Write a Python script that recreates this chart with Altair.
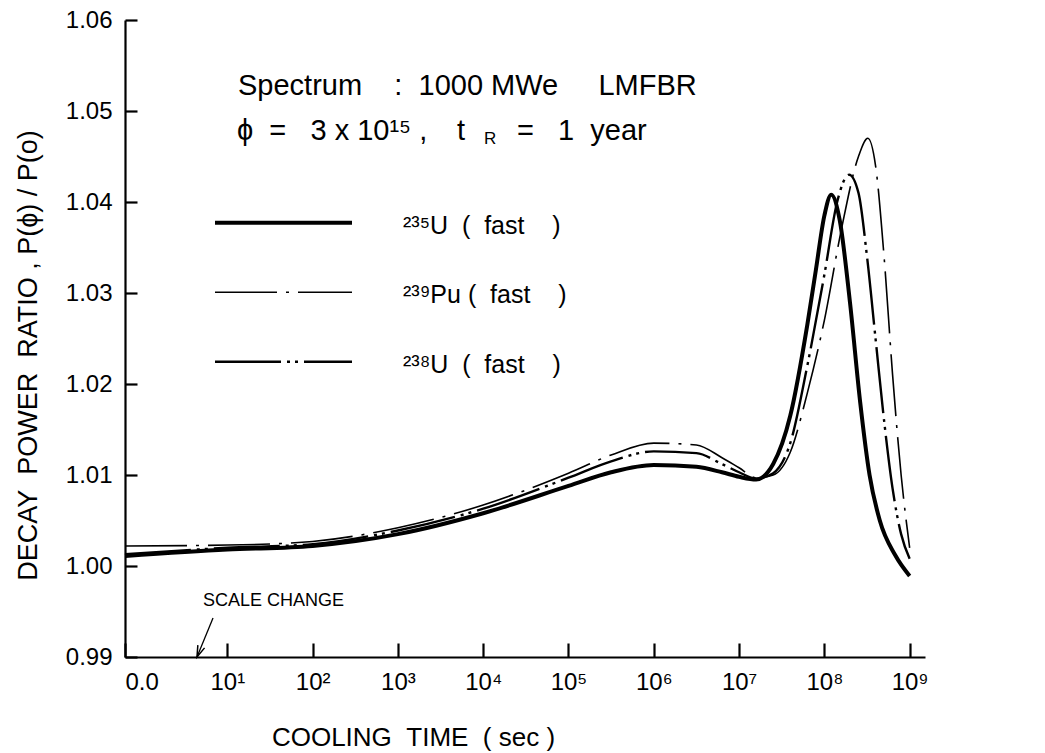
import json
import altair as alt
import pandas as pd

# Cooling-time positions are in decades (log10 of seconds). t = 0 has no
# logarithm, so it sits at -0.2, left of the scale change on the axis.
U235_POS = [-0.2, 1, 2, 3, 4, 5, 5.5, 6, 6.5, 6.8, 7.0, 7.2, 7.4, 7.6, 7.8, 7.9,
            8.0, 8.08, 8.18, 8.3, 8.42, 8.53, 8.65, 8.83, 9.0]
U235_RATIO = [1.0011, 1.0018, 1.0022, 1.0035, 1.0058, 1.0088, 1.0103, 1.0111, 1.0109,
              1.0103, 1.0098, 1.0095, 1.0112, 1.0165, 1.0265, 1.0325, 1.0385, 1.0408,
              1.0380, 1.0290, 1.0180, 1.0100, 1.0050, 1.0012, 0.9989]

PU239_POS = [-0.2, 1, 2, 3, 4, 5, 5.5, 6, 6.5, 6.8, 7.0, 7.2, 7.4, 7.6, 7.8, 8.0,
             8.2, 8.4, 8.51, 8.6, 8.7, 8.8, 8.9, 9.0]
PU239_RATIO = [1.0022, 1.0023, 1.0027, 1.0042, 1.0067, 1.0102, 1.0122, 1.0135, 1.0133,
               1.0119, 1.0108, 1.0097, 1.0100, 1.0125, 1.0190, 1.0270, 1.0370, 1.0450,
               1.0470, 1.0440, 1.0340, 1.0210, 1.0100, 1.0020]

U238_POS = [-0.2, 1, 2, 3, 4, 5, 5.5, 6, 6.5, 6.8, 7.0, 7.2, 7.4, 7.6, 7.8, 8.0,
            8.15, 8.29, 8.4, 8.5, 8.6, 8.7, 8.8, 8.9, 9.0]
U238_RATIO = [1.0013, 1.0020, 1.0024, 1.0039, 1.0063, 1.0097, 1.0115, 1.0126, 1.0124,
              1.0112, 1.0103, 1.0096, 1.0102, 1.0135, 1.0220, 1.0320, 1.0400, 1.0430,
              1.0410, 1.0340, 1.0250, 1.0160, 1.0085, 1.0035, 1.0008]

SERIES = ["235U", "239Pu", "238U"]
LEGEND_TEXT = [
    "²³⁵U\u00a0\u00a0(\u00a0\u00a0fast\u00a0\u00a0\u00a0\u00a0)",
    "²³⁹Pu\u00a0(\u00a0\u00a0fast\u00a0\u00a0\u00a0\u00a0)",
    "²³⁸U\u00a0\u00a0(\u00a0\u00a0fast\u00a0\u00a0\u00a0\u00a0)",
]
STROKE_WIDTH = [4.0, 1.6, 2.4]
STROKE_DASH = [None, [62, 9, 3, 9], [66, 6, 3, 5, 3, 6]]

X_TICK_POS = [-0.2, 1, 2, 3, 4, 5, 6, 7, 8, 9]
X_TICK_TEXT = ["0.0", "10¹", "10²", "10³", "10⁴", "10⁵", "10⁶", "10⁷", "10⁸", "10⁹"]
Y_TICKS = [0.99, 1.00, 1.01, 1.02, 1.03, 1.04, 1.05, 1.06]

FONT = "Liberation Sans"
W, H = 800, 637
LEFT, TOP = 125, 20
X_DOMAIN = [-0.2, 9.18]
Y_DOMAIN = [0.99, 1.06]

curves = pd.DataFrame({
    "pos": U235_POS + PU239_POS + U238_POS,
    "ratio": U235_RATIO + PU239_RATIO + U238_RATIO,
    "series": [SERIES[0]] * len(U235_POS) + [SERIES[1]] * len(PU239_POS)
              + [SERIES[2]] * len(U238_POS),
})

label_expr = (f"{json.dumps(X_TICK_TEXT, ensure_ascii=False)}"
              f"[indexof({json.dumps(X_TICK_POS)}, datum.value)]")

xscale = alt.Scale(domain=X_DOMAIN, nice=False, zero=False)
yscale = alt.Scale(domain=Y_DOMAIN, nice=False, zero=False)

# negative tick sizes (given as expressions) turn the ticks into the plot
xaxis = alt.Axis(
    values=X_TICK_POS, labelExpr=label_expr, grid=False,
    ticks=True, tickSize={"expr": "-14"}, tickColor="black", tickWidth=2.2,
    domainColor="black", domainWidth=2.2, labelFont=FONT, labelFontSize=24,
    labelColor="black", labelPadding=27, labelFlush=True,
    title="COOLING\u00a0\u00a0TIME\u00a0\u00a0(\u00a0sec\u00a0)",
    titleFont=FONT, titleFontSize=26, titleFontWeight="normal", titleColor="black",
    titleX=288, titleY=80, titleAlign="center", titleBaseline="middle",
)
yaxis = alt.Axis(
    values=Y_TICKS, format=".2f", grid=False,
    ticks=True, tickSize={"expr": "-12"}, tickColor="black", tickWidth=2.2,
    domainColor="black", domainWidth=2.2, labelFont=FONT, labelFontSize=24,
    labelColor="black", labelPadding=25,
    title="DECAY\u00a0\u00a0POWER\u00a0\u00a0RATIO\u00a0,\u00a0P(ϕ)\u00a0/\u00a0P(o)",
    titleFont=FONT, titleFontSize=27, titleFontWeight="normal", titleColor="black",
    titleX=-97, titleY=335, titleAngle=270, titleAlign="center", titleBaseline="middle",
)

X = alt.X("pos:Q", scale=xscale, axis=xaxis)
Y = alt.Y("ratio:Q", scale=yscale, axis=yaxis)

layers = []

# the three decay-power curves
for name, sw, dash in zip(SERIES, STROKE_WIDTH, STROKE_DASH):
    props = dict(color="black", strokeWidth=sw, interpolate="monotone")
    if dash:
        props["strokeDash"] = dash
    layers.append(alt.Chart(curves[curves.series == name]).mark_line(**props)
                  .encode(x=X, y=Y))

# legend drawn inside the plot
for i, (txt, sw, dash) in enumerate(zip(LEGEND_TEXT, STROKE_WIDTH, STROKE_DASH)):
    ly = 222.7 + 69.5 * i - TOP
    props = dict(color="black", strokeWidth=sw)
    if dash:
        props["strokeDash"] = dash
    layers.append(alt.Chart(pd.DataFrame({"k": [i]})).mark_rule(**props).encode(
        x=alt.value(215 - LEFT), x2=alt.value(352 - LEFT), y=alt.value(ly)))
    layers.append(alt.Chart(pd.DataFrame({"t": [txt]})).mark_text(
        align="left", baseline="middle", font=FONT, fontSize=25, color="black").encode(
        x=alt.value(403 - LEFT), y=alt.value(ly + 3), text="t:N"))


def note(text, px, py, size):
    return alt.Chart(pd.DataFrame({"t": [text]})).mark_text(
        align="left", baseline="middle", font=FONT, fontSize=size, color="black").encode(
        x=alt.value(px - LEFT), y=alt.value(py - TOP), text="t:N")


layers += [
    note("Spectrum\u00a0\u00a0\u00a0\u00a0:\u00a0\u00a01000\u00a0MWe\u00a0\u00a0\u00a0\u00a0\u00a0LMFBR",
         238, 86, 29),
    note("ϕ\u00a0\u00a0=\u00a0\u00a0\u00a03\u00a0x\u00a010¹⁵\u00a0,", 237, 131, 29),
    note("t", 457, 131, 29),
    note("R", 484, 139, 17),
    note("=\u00a0\u00a0\u00a01\u00a0\u00a0year", 517, 131, 29),
    note("SCALE\u00a0CHANGE", 203, 601, 18),
]

# arrow pointing at the scale change on the time axis
arrow = pd.DataFrame({"pos": [0.832], "ratio": [0.99429], "pos2": [0.644], "ratio2": [0.99]})
layers.append(alt.Chart(arrow).mark_rule(color="black", strokeWidth=1.3).encode(
    x=X, y=Y, x2="pos2:Q", y2="ratio2:Q"))
head = pd.DataFrame({"pos": [0.644], "ratio": [0.99]})
layers.append(alt.Chart(head).mark_point(
    shape="M-0.45,1.4L0,0L0.45,1.4", filled=False, color="black", strokeWidth=1.5,
    size=260, angle=202, opacity=1).encode(x=X, y=Y))

chart = alt.layer(*layers).properties(
    width=W, height=H,
    autosize=alt.AutoSizeParams(type="none"),
    padding={"left": LEFT, "top": TOP, "right": 1045 - LEFT - W, "bottom": 753 - TOP - H},
    background="white",
).configure_view(stroke=None)

chart.save("out.html", embed_options={"renderer": "svg", "actions": False})
